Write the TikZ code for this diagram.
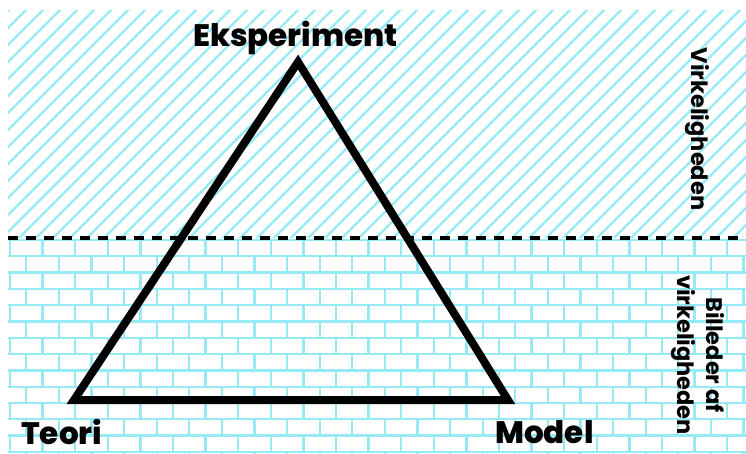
\documentclass[tikz,border=0pt]{standalone}
\usepackage{fontspec}
\newfontfamily\labelfont{Poppins}[UprightFont=* ExtraBold]
\newfontfamily\sidefont{Poppins}[UprightFont=* Bold]
\definecolor{pat}{RGB}{150,234,246}
\begin{document}
\begin{tikzpicture}[x=1pt,y=-1pt,
  hatchline/.style={draw=pat,line width=2.2},
  brickline/.style={draw=pat,line width=2.3},
  triline/.style={draw=black,line width=8,line join=miter},
  divider/.style={draw=black,line width=3,dash pattern=on 10 off 8},
  cornerlabel/.style={font=\labelfont\fontsize{31}{34}\selectfont,inner sep=0pt},
  sidelabel/.style={font=\sidefont\fontsize{22.5}{29.5}\selectfont,inner sep=0pt,rotate=-90,align=center}]
\useasboundingbox (0,0) rectangle (746,454);
% hatched region
\begin{scope}
  \clip (8,11) rectangle (746,238);
  \foreach \k in {0,...,60}{
    \pgfmathsetmacro\c{2+17*\k}
    \draw[hatchline] (\c,0) -- ({\c-300},300);
  }
\end{scope}
% brick region
\begin{scope}
  \clip (8,238) rectangle (746,454);
  \foreach \j in {0,...,13}{
    \pgfmathsetmacro\yt{240+16.3*\j}
    \pgfmathsetmacro\yb{\yt+16.3}
    \pgfmathsetmacro\off{mod(\j,2)*16.3}
    \draw[brickline] (0,\yt) -- (746,\yt);
    \foreach \k in {-1,...,23}{
      \draw[brickline] ({10+\off+32.6*\k},\yt) -- ({10+\off+32.6*\k},\yb);
    }
  }
\end{scope}
% divider
\coordinate (dl) at (8,238);
\coordinate (dr) at (746,238);
\draw[divider] (dl) -- (dr);
% triangle
\coordinate (top) at (298,62);
\coordinate (bl) at (74,400);
\coordinate (br) at (508,400);
\draw[triline] (top) -- (bl) -- (br) -- cycle;
% labels
\node[cornerlabel,anchor=base] (eks) at (295.5,47) {Eksperiment};
\node[cornerlabel,anchor=base west] (teori) at (21,444) {Teori};
\node[cornerlabel,anchor=base west] (model) at (495,443) {Model};
\node[sidelabel] (virk) at (697,129) {Virkeligheden};
\node[sidelabel] (bill) at (698,355) {Billeder af\\virkeligheden};
\end{tikzpicture}
\end{document}
